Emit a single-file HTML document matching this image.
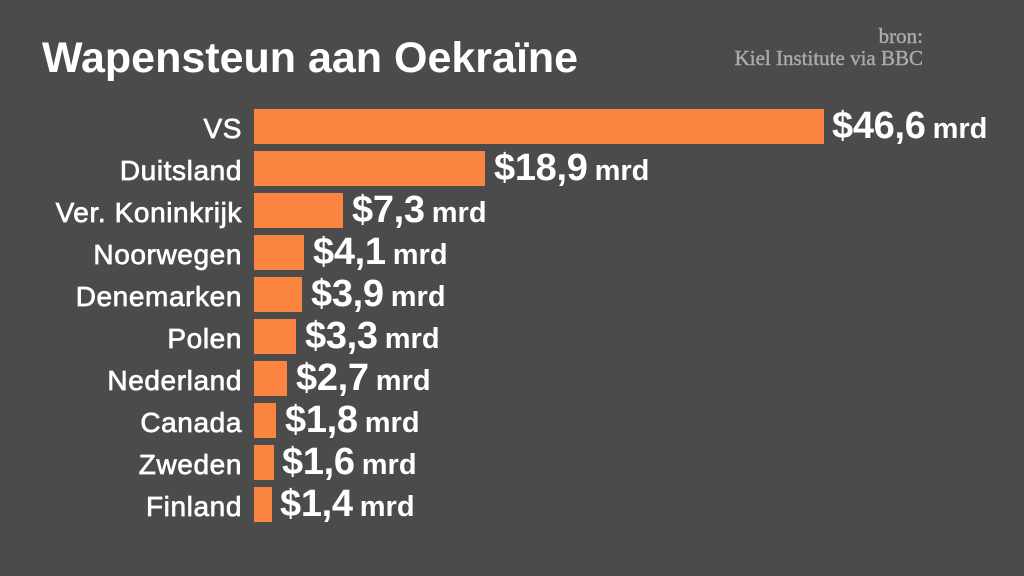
<!DOCTYPE html>
<html><head><meta charset="utf-8"><style>
body{margin:0;width:1024px;height:576px;background:#4b4b4b;font-family:"Liberation Sans",sans-serif;position:relative;overflow:hidden}
.t{position:absolute;left:42px;top:34px;font-size:43px;font-weight:bold;color:#fff;letter-spacing:0px}
.src{position:absolute;right:101px;top:25px;text-align:right;font-family:"Liberation Serif",serif;font-size:21px;line-height:22px;color:#ababab;-webkit-text-stroke:0.4px #ababab}
.row{position:absolute;left:0;height:35px;width:1024px}
.lab{position:absolute;right:782px;top:2px;line-height:35px;font-size:28px;color:#fff;white-space:nowrap;-webkit-text-stroke:0.7px #fff;letter-spacing:0.6px}
.bar{position:absolute;left:254px;top:0;height:35px;background:#fb8441}
.v{position:absolute;top:-3px;line-height:40px;color:#fff;font-weight:bold;font-size:38px;white-space:nowrap;letter-spacing:-0.3px}
.v span{font-size:29px;margin-left:7px;letter-spacing:0}
</style></head><body>
<div class="t">Wapensteun aan Oekraïne</div>
<div class="src">bron:<br>Kiel Institute via BBC</div>
<div class="row" style="top:109px"><div class="lab">VS</div><div class="bar" style="width:570px"></div><div class="v" style="left:832px">$46,6<span>mrd</span></div></div>
<div class="row" style="top:151px"><div class="lab">Duitsland</div><div class="bar" style="width:231px"></div><div class="v" style="left:494px">$18,9<span>mrd</span></div></div>
<div class="row" style="top:193px"><div class="lab">Ver. Koninkrijk</div><div class="bar" style="width:89px"></div><div class="v" style="left:352px">$7,3<span>mrd</span></div></div>
<div class="row" style="top:235px"><div class="lab">Noorwegen</div><div class="bar" style="width:50px"></div><div class="v" style="left:313px">$4,1<span>mrd</span></div></div>
<div class="row" style="top:277px"><div class="lab">Denemarken</div><div class="bar" style="width:48px"></div><div class="v" style="left:311px">$3,9<span>mrd</span></div></div>
<div class="row" style="top:319px"><div class="lab">Polen</div><div class="bar" style="width:42px"></div><div class="v" style="left:305px">$3,3<span>mrd</span></div></div>
<div class="row" style="top:361px"><div class="lab">Nederland</div><div class="bar" style="width:33px"></div><div class="v" style="left:296px">$2,7<span>mrd</span></div></div>
<div class="row" style="top:403px"><div class="lab">Canada</div><div class="bar" style="width:22px"></div><div class="v" style="left:285px">$1,8<span>mrd</span></div></div>
<div class="row" style="top:445px"><div class="lab">Zweden</div><div class="bar" style="width:20px"></div><div class="v" style="left:282px">$1,6<span>mrd</span></div></div>
<div class="row" style="top:487px"><div class="lab">Finland</div><div class="bar" style="width:18px"></div><div class="v" style="left:280px">$1,4<span>mrd</span></div></div>
</body></html>
